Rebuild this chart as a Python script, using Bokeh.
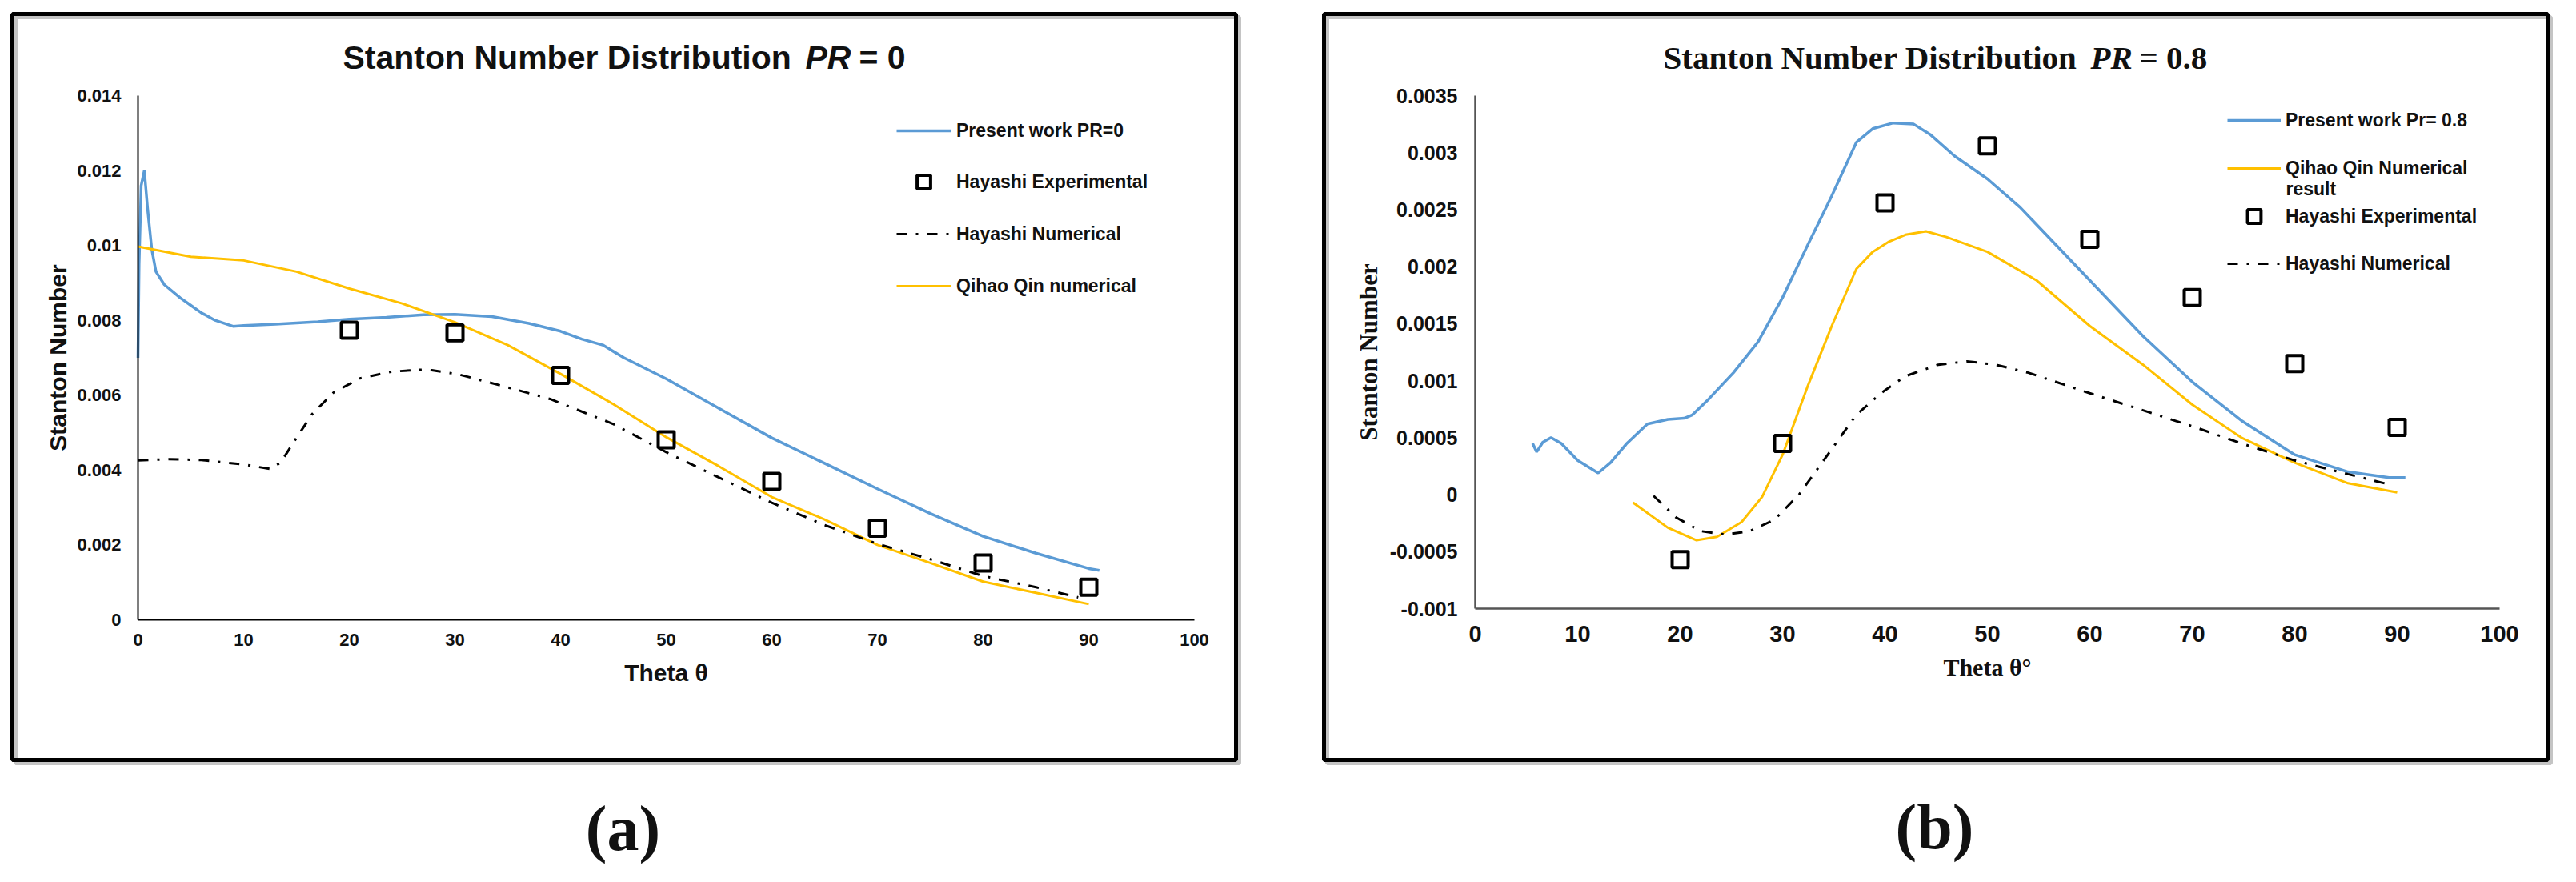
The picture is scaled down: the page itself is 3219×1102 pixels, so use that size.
from bokeh.plotting import figure
from bokeh.models import (Range1d, FixedTicker, Legend, LegendItem, Label,
                          BoxAnnotation, NumeralTickFormatter)
from bokeh.layouts import row
from bokeh.embed import file_html
from bokeh.resources import INLINE

BLUE = "#5B9BD5"
GOLD = "#FFC000"
SANS = "Liberation Sans"
SERIF = "Liberation Serif"

# ---------------- Panel (a): PR = 0 ----------------
a_present_x = [0, 0.1, 0.3, 0.6, 0.9, 1.3, 1.7, 2.5, 4, 5, 6, 7.3, 9, 10, 13, 17, 20,
               23.5, 27, 30, 33.5, 37, 40, 42, 44, 46, 50, 55, 60, 65, 70, 75, 80, 85, 90, 91]
a_present_y = [0.0070, 0.0095, 0.0116, 0.0120, 0.0110, 0.0099, 0.0093, 0.00895, 0.0086,
               0.0084, 0.0082, 0.0080, 0.00784, 0.00786, 0.0079, 0.00796, 0.00803, 0.00808,
               0.00815, 0.00816, 0.0081, 0.00792, 0.00771, 0.0075, 0.00734, 0.0070, 0.00644,
               0.00565, 0.00486, 0.00418, 0.0035, 0.00284, 0.00223, 0.00178, 0.00137, 0.00132]
a_qin_x = [0, 5, 10, 15, 20, 25, 30, 35, 40, 45, 50, 55, 60, 65, 70, 75, 80, 85, 90]
a_qin_y = [0.00997, 0.0097, 0.0096, 0.0093, 0.00885, 0.00845, 0.00795, 0.00734, 0.00657,
           0.00576, 0.00488, 0.0041, 0.00328, 0.00268, 0.0020, 0.00152, 0.00102, 0.00072, 0.00042]
a_hnum_x = [0, 3, 6, 10, 12.5, 13.5, 15, 16.5, 18.5, 21, 24, 27.3, 30.3, 35, 39, 45, 50,
            55, 60, 65, 70, 75, 80, 85, 89]
a_hnum_y = [0.00426, 0.00429, 0.00427, 0.00415, 0.00403, 0.0042, 0.00486, 0.0055, 0.00607,
            0.00645, 0.00663, 0.00669, 0.00656, 0.00621, 0.0059, 0.00523, 0.00448, 0.0038,
            0.00313, 0.00253, 0.00203, 0.00162, 0.00117, 0.00087, 0.0006]
a_exp_x = [20, 30, 40, 50, 60, 70, 80, 90]
a_exp_y = [0.00774, 0.00767, 0.00653, 0.00481, 0.0037, 0.00245, 0.00152, 0.00087]

a_xticks = [0, 10, 20, 30, 40, 50, 60, 70, 80, 90, 100]
a_xlabels = ["0", "10", "20", "30", "40", "50", "60", "70", "80", "90", "100"]
a_yticks = [0, 0.002, 0.004, 0.006, 0.008, 0.01, 0.012, 0.014]
a_ylabels = ["0", "0.002", "0.004", "0.006", "0.008", "0.01", "0.012", "0.014"]

# ---------------- Panel (b): PR = 0.8 ----------------
b_present_x = [5.6, 6.0, 6.6, 7.4, 8.4, 10, 12, 13.2, 14.8, 16.8, 18.8, 20.4, 21.2, 22.8,
               25.2, 27.6, 30, 32.4, 34.8, 37.2, 38.8, 40.8, 42.8, 44.4, 46.8, 50, 53.2,
               60, 65.2, 70, 74.8, 80, 85.2, 89.2, 90.8]
b_present_y = [0.00045, 0.000375, 0.00046, 0.0005, 0.00045, 0.0003, 0.00019, 0.00028,
               0.00045, 0.00062, 0.00066, 0.00067, 0.0007, 0.00084, 0.00107, 0.00134,
               0.00173, 0.00218, 0.00262, 0.00309, 0.00321, 0.00326, 0.00325, 0.00316,
               0.00297, 0.00277, 0.00252, 0.00188, 0.00139, 0.00099, 0.00065, 0.00035,
               0.0002, 0.00015, 0.00015]
b_qin_x = [15.4, 18.8, 21.6, 23.6, 26, 28, 30, 32.4, 34.8, 37.2, 38.8, 40.4, 42, 44, 46,
           50, 54.8, 60, 65.2, 70, 74.8, 80, 85.2, 90]
b_qin_y = [-0.00007, -0.00029, -0.0004, -0.00037, -0.00024, -0.00002, 0.00035, 0.00094,
           0.00148, 0.00198, 0.00213, 0.00222, 0.00228, 0.00231, 0.00226, 0.00213, 0.00188,
           0.00148, 0.00114, 0.00079, 0.0005, 0.00028, 0.0001, 0.00002]
b_hnum_x = [17.4, 19.6, 22, 24.4, 26.8, 29.2, 31.6, 34, 37.2, 39.6, 42, 45.2, 48, 50.8,
            54, 60, 65.2, 70, 74.8, 80, 85.2, 89.2]
b_hnum_y = [-0.00001, -0.0002, -0.00032, -0.00035, -0.00032, -0.00022, 0.0, 0.0003, 0.0007,
            0.00089, 0.00104, 0.00114, 0.00117, 0.00114, 0.00107, 0.00089, 0.00074, 0.0006,
            0.00045, 0.0003, 0.00018, 0.00009]
b_exp_x = [20, 30, 40, 50, 60, 70, 80, 90]
b_exp_y = [-0.00057, 0.00045, 0.00256, 0.00306, 0.00224, 0.00173, 0.00115, 0.00059]

b_xticks = [0, 10, 20, 30, 40, 50, 60, 70, 80, 90, 100]
b_xlabels = ["0", "10", "20", "30", "40", "50", "60", "70", "80", "90", "100"]
b_yticks = [-0.001, -0.0005, 0, 0.0005, 0.001, 0.0015, 0.002, 0.0025, 0.003, 0.0035]
b_ylabels = ["-0.001", "-0.0005", "0", "0.0005", "0.001", "0.0015", "0.002", "0.0025",
             "0.003", "0.0035"]

DASHDOT = "13 11 3 11"
H = 1086


def rng(p0, v0, p1, v1, size):
    """Range so that data v0 sits at canvas pixel p0 and v1 at p1."""
    scale = (p1 - p0) / (v1 - v0)
    start = v0 - p0 / scale
    return Range1d(start, start + size / scale)


def make_fig(width, xr, yr, xfix, yfix, xb, yb):
    p = figure(width=width, height=H, x_range=xr, y_range=yr,
               output_backend="svg", toolbar_location=None,
               min_border=0, min_border_left=0, min_border_right=0,
               min_border_top=0, min_border_bottom=0,
               background_fill_color="white", border_fill_color="white",
               outline_line_color=None)
    p.grid.visible = False
    p.xaxis.fixed_location = xfix
    p.yaxis.fixed_location = yfix
    p.xaxis.bounds = xb
    p.yaxis.bounds = yb
    for ax in (p.xaxis[0], p.yaxis[0]):
        ax.major_tick_line_color = None
        ax.minor_tick_line_color = None
        ax.major_tick_out = 0
        ax.major_tick_in = 0
        ax.minor_tick_out = 0
        ax.minor_tick_in = 0
        ax.major_label_text_color = "#111111"
        ax.axis_label_text_color = "#111111"
        ax.major_label_text_font_style = "bold"
        ax.axis_label_text_font_style = "bold"
        ax.formatter = NumeralTickFormatter(format="0.[0000]")
    return p


def add_legend(p, label, rend, x, y_bottom, glyph_w, standoff):
    lg = Legend(items=[LegendItem(label=label, renderers=[rend])], location=(x, y_bottom))
    lg.glyph_width = glyph_w
    lg.glyph_height = 42
    lg.label_height = 42
    lg.label_standoff = standoff
    lg.padding = 0
    lg.margin = 0
    lg.spacing = 0
    lg.border_line_color = None
    lg.background_fill_alpha = 0
    lg.label_text_font = SANS
    lg.label_text_font_style = "bold"
    lg.label_text_font_size = "23px"
    lg.label_text_color = "#111111"
    p.add_layout(lg)


def frame_box(p, l, r, b, t):
    # soft grey shadow, then the black border
    p.add_layout(BoxAnnotation(left=l + 4, right=r + 4, bottom=b - 4, top=t - 4,
                               left_units="screen", right_units="screen",
                               top_units="screen", bottom_units="screen",
                               fill_color=None, line_color="#c4c4c4", line_alpha=1,
                               line_width=5))
    p.add_layout(BoxAnnotation(left=l, right=r, bottom=b, top=t,
                               left_units="screen", right_units="screen",
                               top_units="screen", bottom_units="screen",
                               fill_color=None, line_color="black", line_alpha=1,
                               line_width=5))


def text(p, txt, x, y, font, size, style, align="left"):
    p.add_layout(Label(x=x, y=y, x_units="screen", y_units="screen", text=txt,
                       text_font=font, text_font_size=size, text_font_style=style,
                       text_color="#111111", text_baseline="middle", text_align=align))


# ======== figure A (canvas = page x 8..1610) ========
WA = 1602
pa = make_fig(WA, rng(172, 0, 1492, 100, WA), rng(312, 0, 967, 0.014, H),
              0, 0, (0, 100), (0, 0.014))
pa.xaxis.ticker = FixedTicker(ticks=a_xticks)
pa.xaxis.major_label_overrides = dict(zip(a_xticks, a_xlabels))
pa.yaxis.ticker = FixedTicker(ticks=a_yticks)
pa.yaxis.major_label_overrides = dict(zip(a_yticks, a_ylabels))
for ax in (pa.xaxis[0], pa.yaxis[0]):
    ax.axis_line_color = "black"
    ax.axis_line_width = 2
    ax.major_label_text_font = SANS
    ax.major_label_text_font_size = "22px"
    ax.axis_label_text_font = SANS
    ax.axis_label_text_font_size = "30px"
pa.yaxis.major_label_standoff = 21
pa.xaxis.major_label_standoff = 17
pa.yaxis.axis_label = "Stanton Number"
pa.xaxis.axis_label = "Theta θ"
pa.yaxis.axis_label_standoff = 4
pa.xaxis.axis_label_standoff = 14

frame_box(pa, 15, 1544, 137, 1069)

ra1 = pa.line(a_present_x, a_present_y, line_color=BLUE, line_width=3.5)
ra4 = pa.line(a_qin_x, a_qin_y, line_color=GOLD, line_width=3)
ra3 = pa.line(a_hnum_x, a_hnum_y, line_color="black", line_width=3, line_dash=DASHDOT)
ra2 = pa.scatter(a_exp_x, a_exp_y, marker="square", size=20, line_color="black",
                 line_width=4, fill_color=None)

for lab, rend, vy in (("Present work PR=0", ra1, 902),
                      ("Hayashi Experimental", ra2, 838),
                      ("Hayashi Numerical", ra3, 773),
                      ("Qihao Qin numerical", ra4, 708)):
    add_legend(pa, lab, rend, 1120, vy, 68, 7)

text(pa, "Stanton Number Distribution", 428, 1015, SANS, "41px", "bold")
text(pa, "PR", 1006, 1015, SANS, "41px", "bold italic")
text(pa, "= 0", 1073, 1015, SANS, "41px", "bold")
text(pa, "(a)", 778, 52, SERIF, "80px", "bold", "center")

# ======== figure B (canvas = page x 1610..3211) ========
WB = 1601
pb = make_fig(WB, rng(241, 0, 1521, 100, WB), rng(326, -0.001, 967, 0.0035, H),
              -0.001, 0, (0, 100), (-0.001, 0.0035))
pb.xaxis.ticker = FixedTicker(ticks=b_xticks)
pb.xaxis.major_label_overrides = dict(zip(b_xticks, b_xlabels))
pb.yaxis.ticker = FixedTicker(ticks=b_yticks)
pb.yaxis.major_label_overrides = dict(zip(b_yticks, b_ylabels))
for ax in (pb.xaxis[0], pb.yaxis[0]):
    ax.axis_line_color = "#555555"
    ax.axis_line_width = 2.5
    ax.major_label_text_font = SANS
    ax.axis_label_text_font = SERIF
pb.yaxis.major_label_text_font_size = "25px"
pb.xaxis.major_label_text_font_size = "29px"
pb.yaxis.major_label_standoff = 22
pb.xaxis.major_label_standoff = 21
pb.yaxis.axis_label = "Stanton Number"
pb.xaxis.axis_label = "Theta θ°"
pb.yaxis.axis_label_text_font_size = "31px"
pb.xaxis.axis_label_text_font_size = "30px"
pb.yaxis.axis_label_standoff = 6
pb.xaxis.axis_label_standoff = 12

frame_box(pb, 52, 1581, 137, 1069)

rb1 = pb.line(b_present_x, b_present_y, line_color=BLUE, line_width=3.5)
rb2 = pb.line(b_qin_x, b_qin_y, line_color=GOLD, line_width=3)
rb4 = pb.line(b_hnum_x, b_hnum_y, line_color="black", line_width=3, line_dash=DASHDOT)
rb3 = pb.scatter(b_exp_x, b_exp_y, marker="square", size=20, line_color="black",
                 line_width=4, fill_color=None)

for lab, rend, vy in (("Present work Pr= 0.8", rb1, 915),
                      ("Qihao Qin Numerical", rb2, 855),
                      ("Hayashi Experimental", rb3, 795),
                      ("Hayashi Numerical", rb4, 736)):
    add_legend(pb, lab, rend, 1181, vy, 67, 6)
text(pb, "result", 1254, 851, SANS, "23px", "bold")

text(pb, "Stanton Number Distribution", 476, 1015, SERIF, "41px", "bold")
text(pb, "PR", 1010, 1015, SERIF, "41px", "bold italic")
text(pb, "= 0.8", 1071, 1015, SERIF, "41px", "bold")
text(pb, "(b)", 815, 54, SERIF, "80px", "bold", "center")

layout = row(pa, pb, spacing=0)
open("out.html", "w").write(file_html(layout, INLINE))
